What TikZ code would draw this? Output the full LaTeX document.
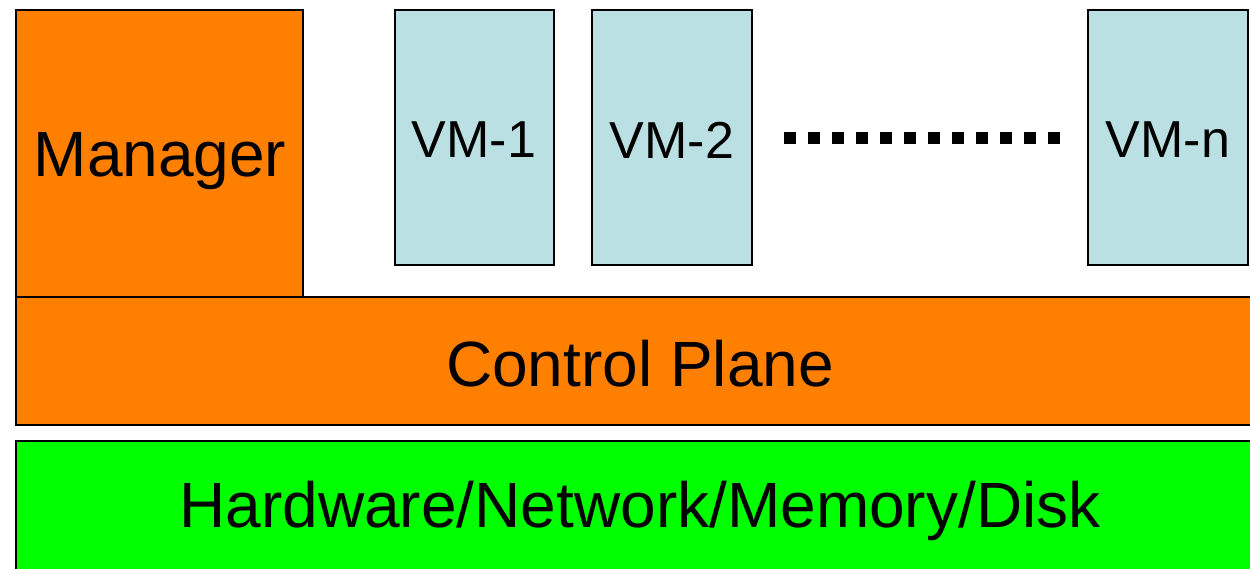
\documentclass[tikz,border=0pt]{standalone}
\usepackage{fontspec}
\setmainfont{Liberation Sans}
\definecolor{orng}{HTML}{FF8000}
\definecolor{vmblue}{HTML}{BBE0E3}
\definecolor{hwgreen}{HTML}{00FF00}
\begin{document}
\begin{tikzpicture}[x=1pt,y=-1pt,
  box/.style={draw=black,line width=2.5pt,inner sep=0pt,outer sep=0pt},
  big/.style={font=\fontsize{64}{64}\selectfont},
  small/.style={font=\fontsize{52}{52}\selectfont}]
\useasboundingbox (0,0) rectangle (1250,568);
\clip (0,0) rectangle (1250,568);
% boxes
\draw[box,fill=orng] (16,10) rectangle (303,297);
\draw[box,fill=vmblue] (395,10) rectangle (554,265);
\draw[box,fill=vmblue] (592,10) rectangle (752,265);
\draw[box,fill=vmblue] (1088,10) rectangle (1248,265);
\draw[box,fill=orng] (16,297) rectangle (1264,425);
\draw[box,fill=hwgreen] (16,441) rectangle (1264,580);
% labels
\node[big] (mgr) at (160,161) {Manager};
\node[small] (vm1) at (474,140) {VM-1};
\node[small] (vm2) at (672,140) {VM-2};
\node[small] (vmn) at (1168,140) {VM-n};
\node[big] (cp) at (640,364) {Control Plane};
\node[big] (hw) at (640,511) {Hardware/Network/Memory/Disk};
% dots
\coordinate (d1) at (784,138);
\coordinate (d2) at (1060,138);
\draw[line width=12pt,dash pattern=on 12pt off 12pt] (d1) -- (d2);
\end{tikzpicture}
\end{document}
